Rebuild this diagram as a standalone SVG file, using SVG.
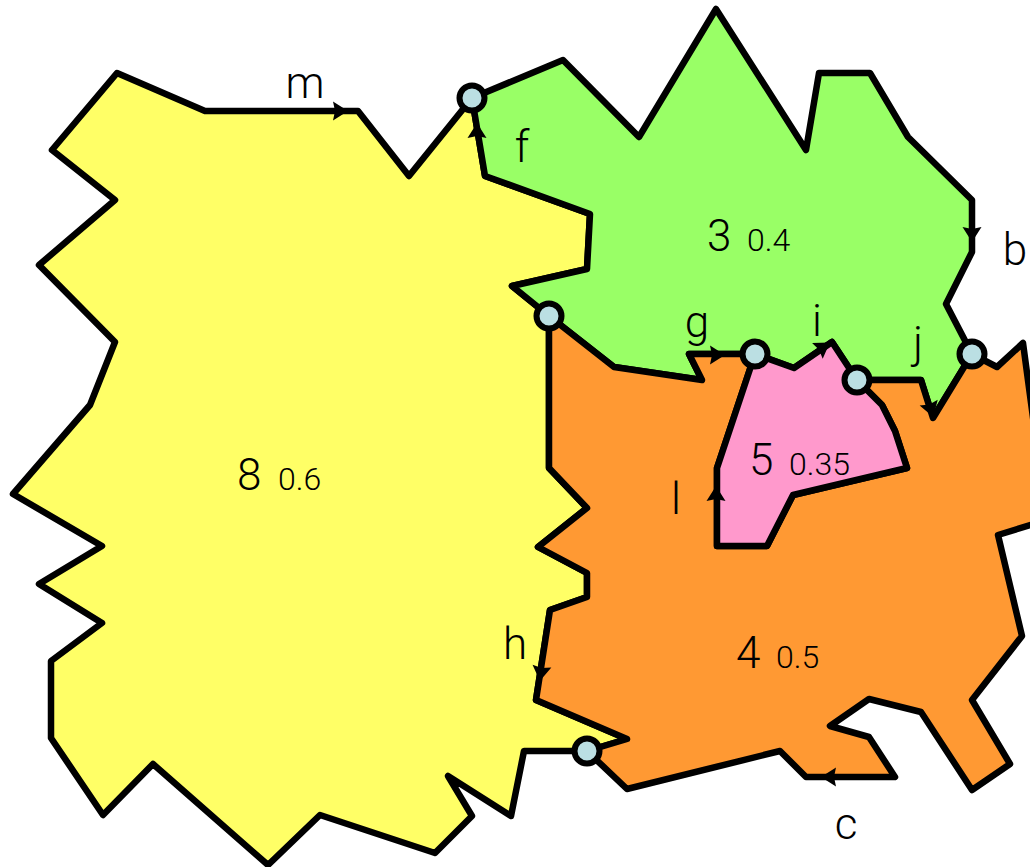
<svg xmlns="http://www.w3.org/2000/svg" width="1030" height="867" viewBox="0 0 1030 867">
<style>
.r{stroke:#000;stroke-width:6.5;stroke-linejoin:round}
.v{fill:#BBDFE3;stroke:#000;stroke-width:6}
text{font-family:Roboto,"Liberation Sans",Arial,sans-serif;font-weight:300;fill:#000}
.n{font-size:44px}
.w{font-size:32px}
.e{font-size:44px;text-anchor:middle}
</style>
<defs><path id="a" d="M1,0L-14,-9.5L-12,0L-14,9.5Z"/></defs>
<rect width="1030" height="867" fill="#fff"/>
<g id="node-8">
<polygon class="r" fill="#FFFF66" points="117,73 205,111 358,111 409,176 472,98 485,176 590,214 587,269 512,286 549,316 549,468 587,508 538,547 587,573 587,597 550,610 536,700 627,739 587,751 524,751 511,816 448,776 472,816 435,853 320,815 268,865 153,764 103,815 51,738 51,661 102,623 39,584 102,546 13,494 90,405 115,342 39,265 115,200 52,150"/>
<text class="n" x="237" y="490">8</text><text class="w" x="278" y="490">0.6</text>
</g>
<g id="node-3">
<polygon class="r" fill="#99FF66" points="472,98 563,60 639,137 716,9 806,150 819,73 870,73 908,137 972,200 972,252 946,304 972,354 933,418 921,380 857,380 832,342 794,368 755,354 689,354 702,380 614,367 549,316 512,286 587,269 590,214 485,176"/>
<text class="n" x="707" y="251">3</text><text class="w" x="747" y="251">0.4</text>
</g>
<g id="node-4">
<polygon class="r" fill="#FF9933" points="549,316 614,367 702,380 689,354 755,354 717,468 717,546 767,546 793,495 907,468 895,431 882,405 857,380 921,380 933,418 972,354 997,367 1023,343 1040,470 1040,522 998,535 1022,636 972,700 1010,764 972,790 921,712 869,699 830,726 869,737 895,777 806,777 780,751 627,789 587,751 627,739 536,700 550,610 587,597 587,573 538,547 587,508 549,468"/>
<text class="n" x="736" y="668">4</text><text class="w" x="776" y="668">0.5</text>
</g>
<g id="node-5">
<polygon class="r" fill="#FF99CC" points="755,354 794,368 832,342 857,380 882,405 895,431 907,468 793,495 767,546 717,546 717,468"/>
<text class="n" x="749" y="475">5</text><text class="w" x="789" y="475">0.35</text>
</g>
<g id="connectors">
<use href="#a" transform="translate(347,111)"/>
<use href="#a" transform="translate(477,124) rotate(-90)"/>
<use href="#a" transform="translate(972,241) rotate(90)"/>
<use href="#a" transform="translate(724,355)"/>
<use href="#a" transform="translate(716,487) rotate(-90)"/>
<use href="#a" transform="translate(540,680) rotate(98)"/>
<use href="#a" transform="translate(829,343) rotate(-34)"/>
<use href="#a" transform="translate(933,416) rotate(72)"/>
<use href="#a" transform="translate(822,777) rotate(180)"/>
<text class="e" x="305" y="98">m</text>
<text class="e" x="522" y="162">f</text>
<text class="e" x="697" y="337">g</text>
<text class="e" x="515" y="659">h</text>
<text class="e" x="817" y="336">i</text>
<text class="e" x="918" y="358">j</text>
<text class="e" x="1015" y="265">b</text>
<text class="e" x="846" y="839">c</text>
<text class="e" x="676" y="514">l</text>
</g>
<g id="vertex-1"><circle class="v" cx="472" cy="98" r="12.5"/></g>
<g id="vertex-2"><circle class="v" cx="549" cy="316" r="12.5"/></g>
<g id="vertex-3"><circle class="v" cx="755" cy="354" r="12.5"/></g>
<g id="vertex-4"><circle class="v" cx="857" cy="380" r="12.5"/></g>
<g id="vertex-5"><circle class="v" cx="972" cy="354" r="12.5"/></g>
<g id="vertex-6"><circle class="v" cx="587" cy="751" r="12.5"/></g>
</svg>
